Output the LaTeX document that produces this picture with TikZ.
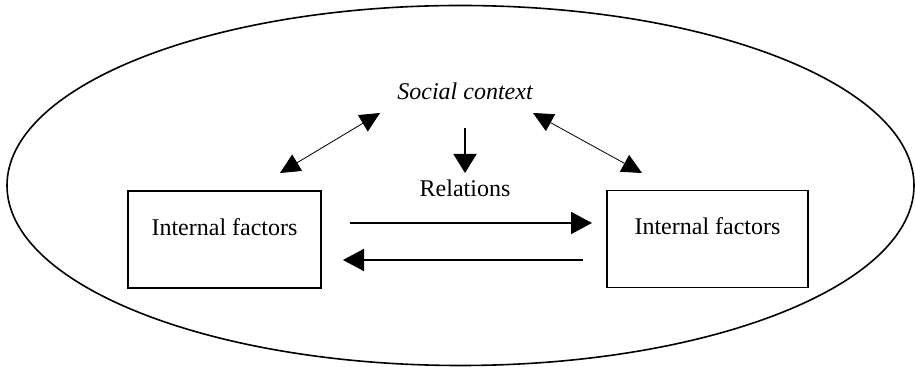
\documentclass[tikz,border=0pt]{standalone}
\usepackage{fontspec}
\setmainfont{Liberation Serif}
\usetikzlibrary{arrows.meta,shapes.geometric}
\begin{document}
\begin{tikzpicture}[x=0.5pt,y=-0.5pt,
  box/.style={draw,line width=0.8pt,minimum height=48.5pt,inner sep=0pt},
  lbl/.style={font=\fontsize{12}{14}\selectfont,anchor=base,inner sep=0pt},
  harrow/.style={line width=0.9pt,-{Triangle[length=10.5pt,width=11pt]}},
  darrow/.style={line width=0.4pt,{Triangle[length=10pt,width=9.5pt]}-{Triangle[length=10pt,width=9.5pt]}},
  varrow/.style={line width=1pt,-{Triangle[length=9.5pt,width=11.5pt]}}]
\useasboundingbox (0,0) rectangle (915,367);
\node[draw,ellipse,line width=0.8pt,minimum width=453.5pt,minimum height=180pt,inner sep=0pt] (E) at (460.5,185.5) {};
\node[box,minimum width=96.5pt] (L) at (224.5,239.5) {};
\node[box,minimum width=100.5pt] (R) at (707.5,239) {};
\node[lbl] (Lt) at (224.5,236) {Internal factors};
\node[lbl] (Rt) at (707.5,235) {Internal factors};
\node[lbl,font=\fontsize{12}{14}\selectfont\itshape] (S) at (465,100) {Social context};
\node[lbl] (Rel) at (465,197) {Relations};
\coordinate (a1) at (350,223);
\coordinate (a2) at (592,223);
\coordinate (b1) at (583,260);
\coordinate (b2) at (343,260);
\coordinate (d1) at (380,113);
\coordinate (d2) at (280,173);
\coordinate (e1) at (533,113);
\coordinate (e2) at (642,173);
\coordinate (v1) at (465,128);
\coordinate (v2) at (465,173);
\draw[harrow] (a1) -- (a2);
\draw[harrow] (b1) -- (b2);
\draw[darrow] (d1) -- (d2);
\draw[darrow] (e1) -- (e2);
\draw[varrow] (v1) -- (v2);
\end{tikzpicture}
\end{document}
